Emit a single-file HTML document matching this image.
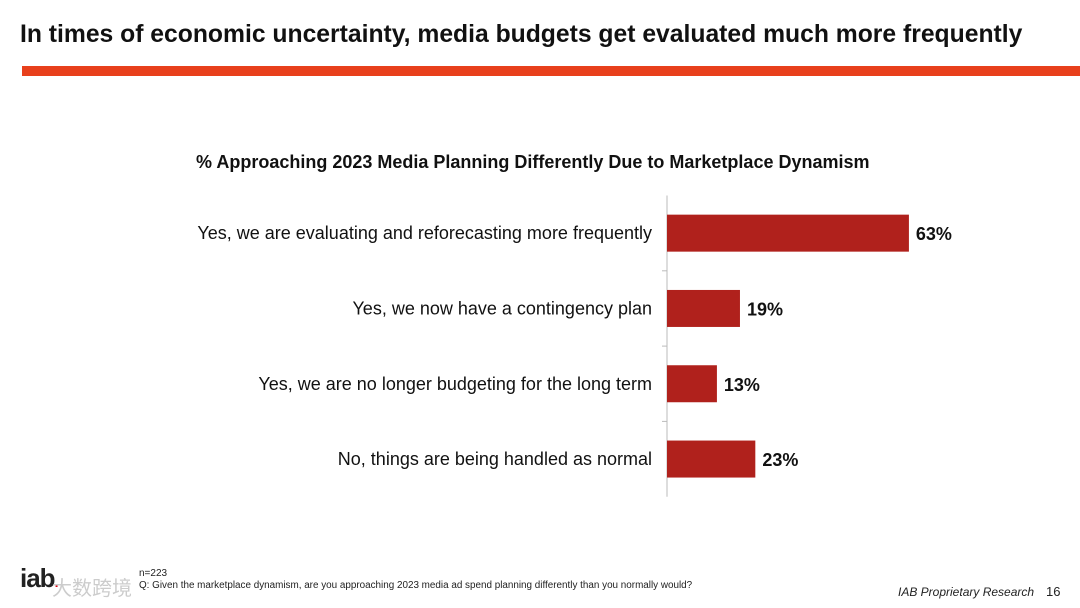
<!DOCTYPE html>
<html><head><meta charset="utf-8"><style>
body{margin:0;width:1080px;height:608px;background:#fff;position:relative;overflow:hidden;font-family:"Liberation Sans",Arial,sans-serif;}
.t{position:absolute;white-space:nowrap;}
</style></head><body>
<div class="t" style="left:20px;top:21px;font-size:24.7px;font-weight:bold;color:#111;">In times of economic uncertainty, media budgets get evaluated much more frequently</div>
<div style="position:absolute;left:22px;top:66px;width:1058px;height:10px;background:#e8401c;"></div>
<div class="t" style="left:196px;top:152px;font-size:18px;font-weight:bold;color:#111;">% Approaching 2023 Media Planning Differently Due to Marketplace Dynamism</div>
<svg id="chart" width="1080" height="608" style="position:absolute;left:0;top:0;"></svg>
<div class="t" style="left:139px;top:568px;font-size:10px;color:#222;">n=223</div>
<div class="t" style="left:139px;top:580px;font-size:9.9px;color:#222;">Q: Given the marketplace dynamism, are you approaching 2023 media ad spend planning differently than you normally would?</div>
<div class="t" style="left:20px;top:563px;font-size:26px;font-weight:bold;color:#222;letter-spacing:-1px;">iab<span style="color:#d01;font-size:14px;">.</span></div>
<div class="t" style="left:52px;top:572px;font-size:20px;color:#ccc;font-family:'Liberation Sans','Noto Sans CJK SC',sans-serif;">大数跨境</div>
<div class="t" style="left:898px;top:585px;font-size:12px;font-style:italic;color:#222;">IAB Proprietary Research</div>
<div class="t" style="left:1046px;top:584px;font-size:13px;color:#222;">16</div>
<script>
const categories=["Yes, we are evaluating and reforecasting more frequently","Yes, we now have a contingency plan","Yes, we are no longer budgeting for the long term","No, things are being handled as normal"];
const values=[63,19,13,23];
const valueLabels=["63%","19%","13%","23%"];
const svg=document.getElementById('chart');
const NS='http://www.w3.org/2000/svg';
const x0=667,pxPer=3.84,top0=195.5,band=75.3,barH=37;
const x=v=>x0+v*pxPer;
const yc=i=>top0+band*(i+0.5);
function mk(t,a){const e=document.createElementNS(NS,t);for(const k in a)e.setAttribute(k,a[k]);svg.appendChild(e);return e;}
const ax=mk('line',{x1:x0,x2:x0,y1:top0,y2:top0+band*categories.length,stroke:'#bbb','stroke-width':1});


for(let i=1;i<categories.length;i++){const tk=mk('line',{x1:x0-5,x2:x0,y1:top0+band*i,y2:top0+band*i,stroke:'#bbb'});

}
categories.forEach((c,i)=>{
const r=mk('rect',{x:x0,y:yc(i)-barH/2,width:x(values[i])-x0,height:barH,fill:'#b0211c'});


const l=mk('text',{x:x0-15,y:yc(i)+6,'text-anchor':'end','font-size':18,fill:'#111','font-family':'Liberation Sans, sans-serif'});
l.textContent=c;


const v=mk('text',{x:x(values[i])+7,y:yc(i)+7,'font-size':18,'font-weight':'bold',fill:'#111','font-family':'Liberation Sans, sans-serif'});
v.textContent=valueLabels[i];


});
</script>
</body></html>
